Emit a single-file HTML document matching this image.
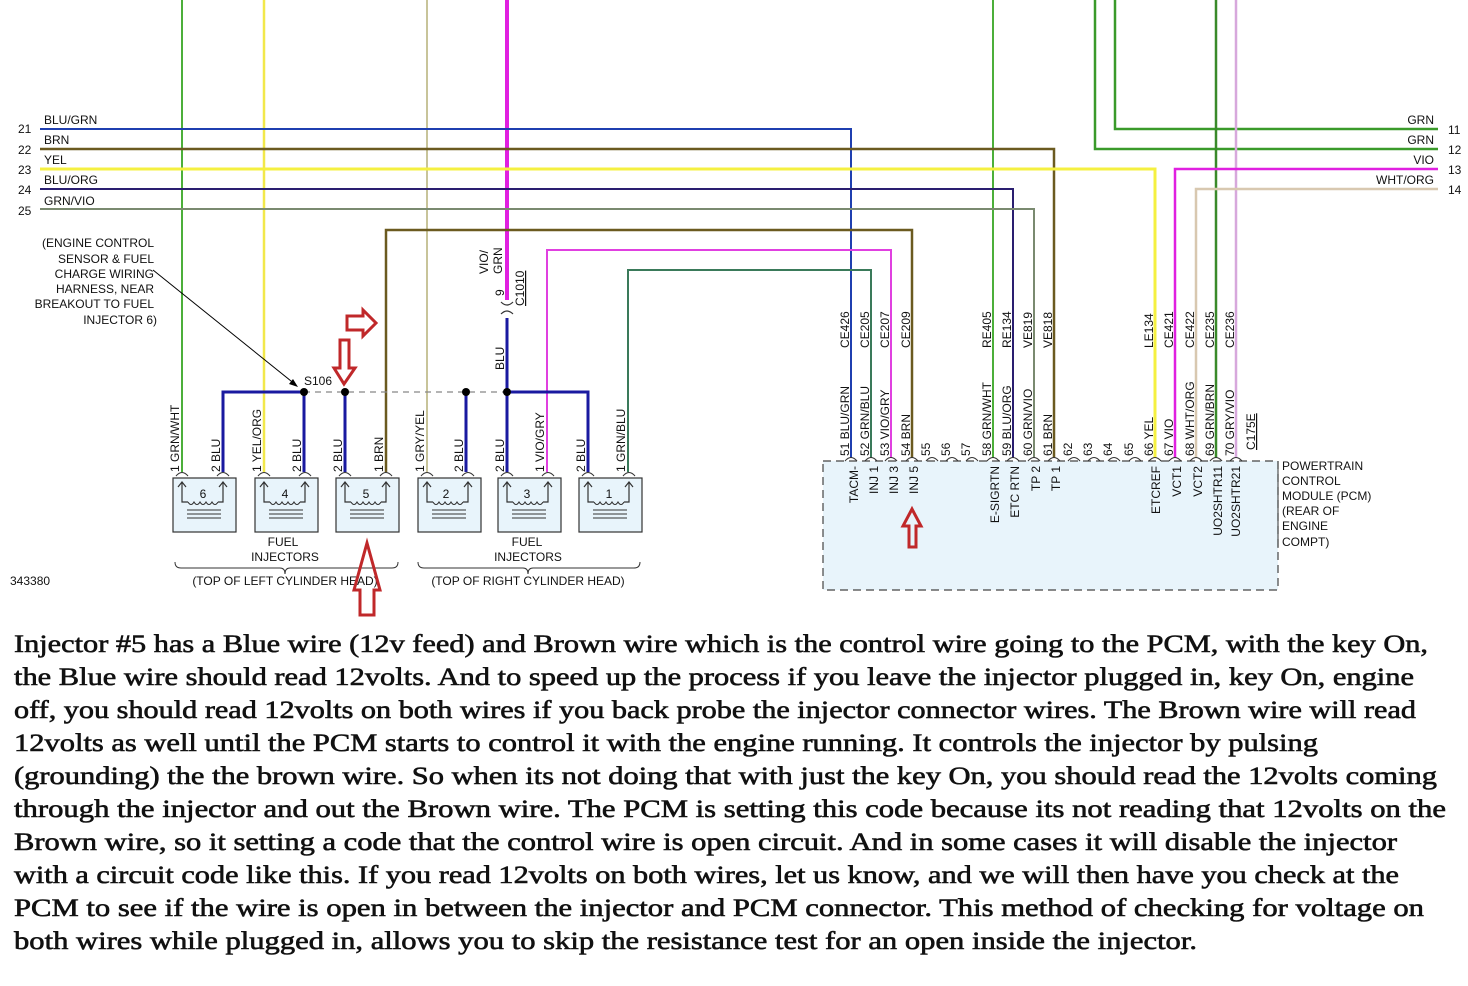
<!DOCTYPE html>
<html><head><meta charset="utf-8"><style>
html,body{margin:0;padding:0;background:#fff}
svg{display:block}
.t{font-family:"Liberation Sans",sans-serif;font-size:12px;fill:#111}
.p{font-family:"Liberation Serif",serif;font-size:25px;font-weight:normal;fill:#111;stroke:#111;stroke-width:0.6px}
</style></head><body>
<svg width="1468" height="986" viewBox="0 0 1468 986" xmlns="http://www.w3.org/2000/svg">
<defs>
<g id="inj">
<rect x="0" y="0" width="63" height="54" fill="#e8f4fb" stroke="#333" stroke-width="1.2"/>
<path d="M9 4 V24 H15 M50 4 V24 H45" fill="none" stroke="#333" stroke-width="1.2"/>
<path d="M5 9 L9 4 L13 9 M46 9 L50 4 L54 9" fill="none" stroke="#333" stroke-width="1.2"/>
<path d="M15 24 q3 5 6 0 q3 5 6 0 q3 5 6 0 q3 5 6 0 q3 5 6 0" fill="none" stroke="#333" stroke-width="1.1"/>
<path d="M14 32 H48 M14 36 H48 M14 40 H48" stroke="#333" stroke-width="1.1"/>
<path d="M3 -2 q6 -7 12 0 M44 -2 q6 -7 12 0" fill="none" stroke="#333" stroke-width="1.1"/>
</g>
</defs>

<rect x="823" y="461" width="455" height="129" fill="#e8f4fb" stroke="#444" stroke-width="1.2" stroke-dasharray="8,5"/>

<path d="M182 0 V472" stroke="#4caf3a" stroke-width="2" fill="none"/>
<path d="M264 0 V472" stroke="#f2e84a" stroke-width="2.5" fill="none"/>
<path d="M427 0 V472" stroke="#c8c49a" stroke-width="2" fill="none"/>
<path d="M507 0 V300" stroke="#e020e0" stroke-width="4" fill="none"/>
<path d="M993 0 V458" stroke="#4caf3a" stroke-width="2" fill="none"/>
<path d="M1115 0 V129 H1438" stroke="#3a9a2a" stroke-width="2.5" fill="none"/>
<path d="M1095 0 V149 H1438" stroke="#3a9a2a" stroke-width="2.5" fill="none"/>
<path d="M1216 0 V458" stroke="#3a8a2a" stroke-width="2.5" fill="none"/>
<path d="M1236 0 V458" stroke="#d7a8dc" stroke-width="2.5" fill="none"/>
<path d="M1175 458 V169 H1438" stroke="#e020e0" stroke-width="2.5" fill="none"/>
<path d="M1196 458 V189 H1438" stroke="#d8c8b0" stroke-width="2.5" fill="none"/>

<path d="M40 129 H851 V458" stroke="#1f3fb0" stroke-width="2" fill="none"/>
<path d="M40 149 H1054 V458" stroke="#6b5a20" stroke-width="2.5" fill="none"/>
<path d="M40 169 H1155 V458" stroke="#f5f040" stroke-width="3" fill="none"/>
<path d="M40 189 H1013 V458" stroke="#2a1e70" stroke-width="2" fill="none"/>
<path d="M40 209 H1034 V458" stroke="#7a8a70" stroke-width="2" fill="none"/>
<path d="M386 472 V230 H912 V458" stroke="#6b5a20" stroke-width="2.5" fill="none"/>
<path d="M547 472 V250 H891 V458" stroke="#e040e0" stroke-width="2" fill="none"/>
<path d="M628 472 V270 H871 V458" stroke="#3a7a5a" stroke-width="2" fill="none"/>

<path d="M223 472 V392 H304 M304 392 V472 M345 392 V472 M466 392 V472 M507 392 V472 M507 392 H588 V472 M507 392 V318" stroke="#1a1aa0" stroke-width="3" fill="none"/>
<path d="M304 392 H507" stroke="#888" stroke-width="1.2" stroke-dasharray="6,5" fill="none"/>
<circle cx="304" cy="392" r="4" fill="#000"/><circle cx="345" cy="392" r="4" fill="#000"/>
<circle cx="466" cy="392" r="4" fill="#000"/><circle cx="507" cy="392" r="4" fill="#000"/>
<path d="M501 302 q6 6 12 0 M501 314 q6 -6 12 0" stroke="#333" stroke-width="1.2" fill="none"/>
<line x1="153" y1="270" x2="296" y2="385" stroke="#000" stroke-width="1"/>
<path d="M289 384 L298 387 L293 379 Z" fill="#000"/>

<g class="t">
<text x="44" y="124">BLU/GRN</text><text x="44" y="144">BRN</text><text x="44" y="164">YEL</text><text x="44" y="184">BLU/ORG</text><text x="44" y="205">GRN/VIO</text>
<text x="18" y="133">21</text><text x="18" y="154">22</text><text x="18" y="174">23</text><text x="18" y="194">24</text><text x="18" y="215">25</text>
<text x="1434" y="124" text-anchor="end">GRN</text><text x="1434" y="144" text-anchor="end">GRN</text><text x="1434" y="164" text-anchor="end">VIO</text><text x="1434" y="184" text-anchor="end">WHT/ORG</text>
<text x="1448" y="134">11</text><text x="1448" y="154">12</text><text x="1448" y="174">13</text><text x="1448" y="194">14</text>
<g text-anchor="end">
<text x="154" y="247">(ENGINE CONTROL</text><text x="154" y="263">SENSOR &amp; FUEL</text><text x="154" y="278">CHARGE WIRING</text><text x="154" y="293">HARNESS, NEAR</text><text x="154" y="308">BREAKOUT TO FUEL</text><text x="157" y="324">INJECTOR 6)</text>
</g>
<text x="304" y="385">S106</text>
<text x="10" y="585">343380</text>
<text x="283" y="546" text-anchor="middle">FUEL</text><text x="285" y="561" text-anchor="middle">INJECTORS</text>
<text x="527" y="546" text-anchor="middle">FUEL</text><text x="528" y="561" text-anchor="middle">INJECTORS</text>
<text x="285" y="585" text-anchor="middle">(TOP OF LEFT CYLINDER HEAD)</text>
<text x="528" y="585" text-anchor="middle">(TOP OF RIGHT CYLINDER HEAD)</text>
<text x="1282" y="470">POWERTRAIN</text><text x="1282" y="485">CONTROL</text><text x="1282" y="500">MODULE (PCM)</text><text x="1282" y="515">(REAR OF</text><text x="1282" y="530">ENGINE</text><text x="1282" y="546">COMPT)</text>
</g>
<path d="M1278 461 V548" stroke="#333" stroke-width="1"/>
<path d="M175 562 q0 6 6 6 H280 q5 0 5 6 q0 -6 5 -6 H392 q6 0 6 -6 M418 562 q0 6 6 6 H523 q5 0 5 6 q0 -6 5 -6 H634 q6 0 6 -6" stroke="#333" stroke-width="1" fill="none"/>

<use href="#inj" x="173" y="478"/><use href="#inj" x="255" y="478"/><use href="#inj" x="336" y="478"/>
<use href="#inj" x="418" y="478"/><use href="#inj" x="498" y="478"/><use href="#inj" x="579" y="478"/>
<g class="t" font-size="13" text-anchor="middle">
<text x="203" y="498">6</text><text x="285" y="498">4</text><text x="366" y="498">5</text><text x="446" y="498">2</text><text x="527" y="498">3</text><text x="609" y="498">1</text>
</g>
<g class="t">
<text transform="translate(179,472) rotate(-90)">1  GRN/WHT</text>
<text transform="translate(220,472) rotate(-90)">2  BLU</text>
<text transform="translate(261,472) rotate(-90)">1  YEL/ORG</text>
<text transform="translate(301,472) rotate(-90)">2  BLU</text>
<text transform="translate(342,472) rotate(-90)">2  BLU</text>
<text transform="translate(383,472) rotate(-90)">1  BRN</text>
<text transform="translate(424,472) rotate(-90)">1  GRY/YEL</text>
<text transform="translate(463,472) rotate(-90)">2  BLU</text>
<text transform="translate(504,472) rotate(-90)">2  BLU</text>
<text transform="translate(544,472) rotate(-90)">1  VIO/GRY</text>
<text transform="translate(585,472) rotate(-90)">2  BLU</text>
<text transform="translate(625,472) rotate(-90)">1  GRN/BLU</text>
<text transform="translate(504,370) rotate(-90)">BLU</text>
<text transform="translate(504,296) rotate(-90)">9</text>
<text transform="translate(488,274) rotate(-90)">VIO/</text>
<text transform="translate(502,274) rotate(-90)">GRN</text>
<text transform="translate(524,306) rotate(-90)" text-decoration="underline">C1010</text>
</g>

<g class="t">
<text transform="translate(849,456) rotate(-90)">51  BLU/GRN</text>
<text transform="translate(869,456) rotate(-90)">52  GRN/BLU</text>
<text transform="translate(889,456) rotate(-90)">53  VIO/GRY</text>
<text transform="translate(910,456) rotate(-90)">54  BRN</text>
<text transform="translate(930,456) rotate(-90)">55</text>
<text transform="translate(950,456) rotate(-90)">56</text>
<text transform="translate(970,456) rotate(-90)">57</text>
<text transform="translate(991,456) rotate(-90)">58  GRN/WHT</text>
<text transform="translate(1011,456) rotate(-90)">59  BLU/ORG</text>
<text transform="translate(1032,456) rotate(-90)">60  GRN/VIO</text>
<text transform="translate(1052,456) rotate(-90)">61  BRN</text>
<text transform="translate(1072,456) rotate(-90)">62</text>
<text transform="translate(1092,456) rotate(-90)">63</text>
<text transform="translate(1112,456) rotate(-90)">64</text>
<text transform="translate(1133,456) rotate(-90)">65</text>
<text transform="translate(1153,456) rotate(-90)">66  YEL</text>
<text transform="translate(1173,456) rotate(-90)">67  VIO</text>
<text transform="translate(1194,456) rotate(-90)">68  WHT/ORG</text>
<text transform="translate(1214,456) rotate(-90)">69  GRN/BRN</text>
<text transform="translate(1234,456) rotate(-90)">70  GRY/VIO</text>
<text transform="translate(1255,450) rotate(-90)" text-decoration="underline">C175E</text>
<text transform="translate(849,348) rotate(-90)">CE426</text>
<text transform="translate(869,348) rotate(-90)">CE205</text>
<text transform="translate(889,348) rotate(-90)">CE207</text>
<text transform="translate(910,348) rotate(-90)">CE209</text>
<text transform="translate(991,348) rotate(-90)">RE405</text>
<text transform="translate(1011,348) rotate(-90)">RE134</text>
<text transform="translate(1032,348) rotate(-90)">VE819</text>
<text transform="translate(1052,348) rotate(-90)">VE818</text>
<text transform="translate(1153,348) rotate(-90)">LE134</text>
<text transform="translate(1173,348) rotate(-90)">CE421</text>
<text transform="translate(1194,348) rotate(-90)">CE422</text>
<text transform="translate(1214,348) rotate(-90)">CE235</text>
<text transform="translate(1234,348) rotate(-90)">CE236</text>
<g text-anchor="end">
<text transform="translate(858,466) rotate(-90)">TACM-</text>
<text transform="translate(878,466) rotate(-90)">INJ 1</text>
<text transform="translate(898,466) rotate(-90)">INJ 3</text>
<text transform="translate(918,466) rotate(-90)">INJ 5</text>
<text transform="translate(999,466) rotate(-90)">E-SIGRTN</text>
<text transform="translate(1019,466) rotate(-90)">ETC RTN</text>
<text transform="translate(1040,466) rotate(-90)">TP 2</text>
<text transform="translate(1060,466) rotate(-90)">TP 1</text>
<text transform="translate(1160,466) rotate(-90)">ETCREF</text>
<text transform="translate(1181,466) rotate(-90)">VCT1</text>
<text transform="translate(1202,466) rotate(-90)">VCT2</text>
<text transform="translate(1222,466) rotate(-90)">UO2SHTR11</text>
<text transform="translate(1240,466) rotate(-90)">UO2SHTR21</text>
</g>
</g>
<path d="M845 461 q6 -7 12 0 M865 461 q6 -7 12 0 M885 461 q6 -7 12 0 M906 461 q6 -7 12 0 M926 461 q6 -7 12 0 M946 461 q6 -7 12 0 M966 461 q6 -7 12 0 M987 461 q6 -7 12 0 M1007 461 q6 -7 12 0 M1028 461 q6 -7 12 0 M1048 461 q6 -7 12 0 M1068 461 q6 -7 12 0 M1088 461 q6 -7 12 0 M1108 461 q6 -7 12 0 M1129 461 q6 -7 12 0 M1149 461 q6 -7 12 0 M1169 461 q6 -7 12 0 M1190 461 q6 -7 12 0 M1210 461 q6 -7 12 0 M1230 461 q6 -7 12 0" stroke="#333" stroke-width="1.1" fill="none"/>

<g fill="none" stroke="#c0282a" stroke-width="3">
<path d="M347 316 H363 V310 L376 323 L363 336 V330 H347 Z"/>
<path d="M340 340 H349 V368 H355 L344 384 L334 368 H340 Z"/>
<path d="M360 615 H374 V590 H380 L367 543 L354 590 H360 Z"/>
<path d="M909 547 H916 V526 H921 L912 509 L903 526 H909 Z"/>
</g>

<g class="p">
<text x="14" y="652" textLength="1414" lengthAdjust="spacingAndGlyphs">Injector #5 has a Blue wire (12v feed) and Brown wire which is the control wire going to the PCM, with the key On,</text>
<text x="14" y="685" textLength="1400" lengthAdjust="spacingAndGlyphs">the Blue wire should read 12volts. And to speed up the process if you leave the injector plugged in, key On, engine</text>
<text x="14" y="718" textLength="1402" lengthAdjust="spacingAndGlyphs">off, you should read 12volts on both wires if you back probe the injector connector wires. The Brown wire will read</text>
<text x="14" y="751" textLength="1304" lengthAdjust="spacingAndGlyphs">12volts as well until the PCM starts to control it with the engine running. It controls the injector by pulsing</text>
<text x="14" y="784" textLength="1423" lengthAdjust="spacingAndGlyphs">(grounding) the the brown wire. So when its not doing that with just the key On, you should read the 12volts coming</text>
<text x="14" y="817" textLength="1432" lengthAdjust="spacingAndGlyphs">through the injector and out the Brown wire. The PCM is setting this code because its not reading that 12volts on the</text>
<text x="14" y="850" textLength="1383" lengthAdjust="spacingAndGlyphs">Brown wire, so it setting a code that the control wire is open circuit. And in some cases it will disable the injector</text>
<text x="14" y="883" textLength="1385" lengthAdjust="spacingAndGlyphs">with a circuit code like this. If you read 12volts on both wires, let us know, and we will then have you check at the</text>
<text x="14" y="916" textLength="1410" lengthAdjust="spacingAndGlyphs">PCM to see if the wire is open in between the injector and PCM connector. This method of checking for voltage on</text>
<text x="14" y="949" textLength="1183" lengthAdjust="spacingAndGlyphs">both wires while plugged in, allows you to skip the resistance test for an open inside the injector.</text>
</g>
</svg>
</body></html>
